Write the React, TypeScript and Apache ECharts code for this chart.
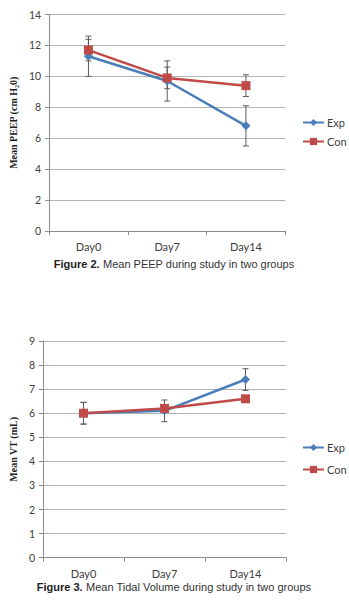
import React, { useEffect, useRef } from "react";
import * as echarts from "echarts";

const categories = ["Day0", "Day7", "Day14"];

const peepExp = [11.3, 9.7, 6.8];
const peepExpErr = [1.3, 1.3, 1.3];
const peepCon = [11.7, 9.9, 9.4];
const peepConErr = [0.7, 0.7, 0.7];

const vtExp = [6.0, 6.1, 7.4];
const vtExpErr = [0.45, 0.45, 0.45];
const vtCon = [6.0, 6.2, 6.6];
const vtConErr = [0.45, 0.1, 0.1];

const EXP_COLOR = "#4A7EBB";
const CON_COLOR = "#BE4B48";
const GRID_COLOR = "#B3B3B3";
const AXIS_COLOR = "#8C8C8C";
const LABEL_COLOR = "#404040";

const errData = (vals: number[], errs: number[]) =>
  vals.map((v, i) => [i, v - errs[i], v + errs[i]]);

const renderErr = (params: any, api: any) => {
  const x = api.value(0);
  const p1 = api.coord([x, api.value(1)]);
  const p2 = api.coord([x, api.value(2)]);
  const hw = 3;
  const style = { stroke: "#5A5A5A", lineWidth: 1 };
  return {
    type: "group",
    children: [
      { type: "line", shape: { x1: p1[0], y1: p1[1], x2: p2[0], y2: p2[1] }, style },
      { type: "line", shape: { x1: p1[0] - hw, y1: p1[1], x2: p1[0] + hw, y2: p1[1] }, style },
      { type: "line", shape: { x1: p2[0] - hw, y1: p2[1], x2: p2[0] + hw, y2: p2[1] }, style },
    ],
  };
};

const xAxisCommon = (gridIndex: number) => ({
  type: "category",
  gridIndex,
  data: categories,
  boundaryGap: true,
  axisLine: { lineStyle: { color: AXIS_COLOR } },
  axisTick: { show: true, length: 4, lineStyle: { color: AXIS_COLOR }, alignWithLabel: false },
  axisLabel: { color: LABEL_COLOR, fontSize: 11, fontFamily: "Lato", margin: 10 },
});

const yAxisCommon = (gridIndex: number, max: number, interval: number, name: string, nameGap: number, nameSize: number) => ({
  type: "value",
  gridIndex,
  min: 0,
  max,
  interval,
  name,
  nameLocation: "middle",
  nameRotate: 90,
  nameGap,
  nameTextStyle: { fontFamily: "Liberation Serif", fontWeight: "bold", fontSize: nameSize, color: "#222" },
  axisLine: { show: true, lineStyle: { color: AXIS_COLOR } },
  axisTick: { show: true, length: 4, lineStyle: { color: AXIS_COLOR } },
  axisLabel: { color: LABEL_COLOR, fontSize: 10.5, fontFamily: "Lato", margin: 8 },
  splitLine: { show: true, lineStyle: { color: GRID_COLOR, width: 1 } },
});

export default function App() {
  const ref = useRef<HTMLDivElement>(null);
  useEffect(() => {
    if (!ref.current) return;
    const chart = echarts.init(ref.current, undefined, { renderer: "svg" });
    const lineSeries = (name: string, data: number[], idx: number, color: string, symbol: string, size: number) => ({
      type: "line",
      name,
      xAxisIndex: idx,
      yAxisIndex: idx,
      data,
      symbol,
      symbolSize: size,
      itemStyle: { color },
      lineStyle: { color, width: 2.5 },
      z: 3,
    });
    const errSeries = (vals: number[], errs: number[], idx: number) => ({
      type: "custom",
      xAxisIndex: idx,
      yAxisIndex: idx,
      data: errData(vals, errs),
      encode: { x: 0, y: [1, 2] },
      renderItem: renderErr,
      z: 2,
      silent: true,
    });
    const legendCommon = {
      orient: "vertical",
      left: 302,
      padding: 0,
      itemWidth: 21,
      itemHeight: 9,
      itemGap: 10,
      textStyle: { color: LABEL_COLOR, fontSize: 11, fontFamily: "Lato", padding: [0, 0, 0, -2] },
      data: ["Exp", "Con"],
      selectedMode: false,
    };
    chart.setOption({
      animation: false,
      backgroundColor: "#ffffff",
      grid: [
        { left: 39.7, top: 14.5, width: 245.6, height: 216.5, containLabel: false },
        { left: 34.7, top: 341, width: 251.3, height: 216.7, containLabel: false },
      ],
      xAxis: [xAxisCommon(0), xAxisCommon(1)],
      yAxis: [
        yAxisCommon(0, 14, 2, "Mean PEEP (cm H\u20820)", 24, 10),
        yAxisCommon(1, 9, 1, "Mean VT (mL)", 21, 10),
      ],
      legend: [
        { ...legendCommon, top: 117, itemGap: 8 },
        { ...legendCommon, top: 442, itemGap: 11 },
      ],
      series: [
        errSeries(peepExp, peepExpErr, 0),
        errSeries(peepCon, peepConErr, 0),
        lineSeries("Exp", peepExp, 0, EXP_COLOR, "diamond", 9),
        lineSeries("Con", peepCon, 0, CON_COLOR, "rect", 9),
        errSeries(vtExp, vtExpErr, 1),
        errSeries(vtCon, vtConErr, 1),
        lineSeries("Exp", vtExp, 1, EXP_COLOR, "diamond", 9),
        lineSeries("Con", vtCon, 1, CON_COLOR, "rect", 9),
      ],
      graphic: [
        {
          type: "text",
          x: 174,
          y: 264,
          style: {
            text: "{b|Figure 2.} {n|Mean PEEP during study in two groups}",
            align: "center",
            verticalAlign: "middle",
            rich: {
              b: { fontFamily: "Liberation Sans", fontWeight: "bold", fontSize: 11, fill: "#222" },
              n: { fontFamily: "Liberation Sans", fontSize: 11, fill: "#333" },
            },
          },
        },
        {
          type: "text",
          x: 174,
          y: 587,
          style: {
            text: "{b|Figure 3.} {n|Mean Tidal Volume during study in two groups}",
            align: "center",
            verticalAlign: "middle",
            rich: {
              b: { fontFamily: "Liberation Sans", fontWeight: "bold", fontSize: 11, fill: "#222" },
              n: { fontFamily: "Liberation Sans", fontSize: 11, fill: "#333" },
            },
          },
        },
      ],
    });
    return () => chart.dispose();
  }, []);
  return (
    <div
      ref={ref}
      style={{ position: "absolute", left: 0, top: 0, width: 349, height: 603 }}
    />
  );
}
